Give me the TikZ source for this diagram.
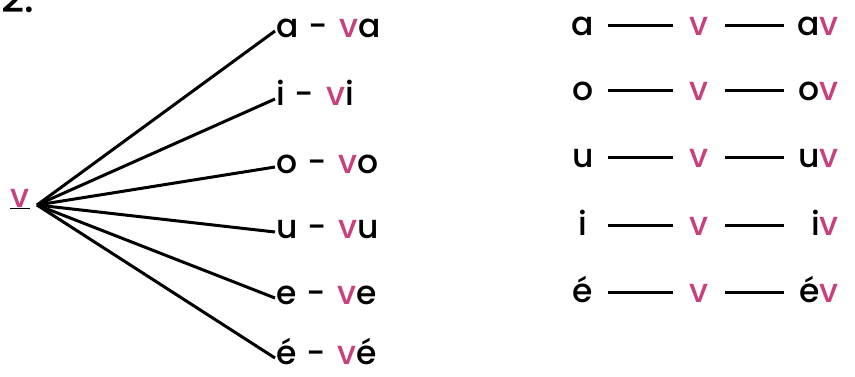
\documentclass[tikz,border=0pt]{standalone}
\usepackage{fontspec}
\setmainfont{Poppins}[UprightFont={* Medium}]
\usetikzlibrary{positioning}
\definecolor{vpink}{HTML}{C8407C}
\newcommand{\vv}{\textcolor{vpink}{v}}
\tikzset{
  big/.style={font=\fontsize{33}{36}\selectfont},
  word/.style={big, anchor=base west, inner sep=1pt, text height=12pt, text depth=0pt},
  lone/.style={big, anchor=base, inner sep=0pt, text height=20pt, text depth=0pt, minimum width=32pt},
  pair/.style={big, anchor=base east, inner sep=0pt, text height=20pt, text depth=0pt,
               text width=46pt, align=right},
  spoke/.style={draw=black, line width=3pt},                          % fan line
  dline/.style={draw=black, line width=3pt, shorten <=9pt, shorten >=9pt}, % row dash
}

\begin{document}
\begin{tikzpicture}[x=1pt,y=-1pt]
  \clip (0,0) rectangle (855,376);
  \fill[white] (0,0) rectangle (855,376);
  \node[font=\fontsize{40}{44}\selectfont, anchor=base west, inner sep=0pt] (num) at (1,12) {2.};
  % left: fan of syllables
  \node[big, anchor=base, inner sep=0pt] (hub) at (20,207) {\underline{\vv}};
  \coordinate (fork) at (37,205);
  \foreach \b/\l [count=\k] in {37/a,105/i,173/o,238/u,304/e,364/é}{
    \node[word] (w\k) at (275,\b) {\l\hspace{10pt}-\hspace{12pt}\vv\l};
    \draw[spoke] (fork) -- (w\k.west);
  }
  % right: letter -- v -- letter v
  \foreach \b/\l [count=\k] in {35/a,100/o,167/u,235/i,302/é}{
    \node[lone] (l\k) at (583,\b) {\l};
    \node[lone, minimum width=34pt] (m\k) at (699,\b) {\vv};
    \node[pair] (r\k) at (839,\b) {\l\vv};
    \draw[dline] (l\k) -- (m\k);
    \draw[dline] (m\k) -- (r\k);
  }
\end{tikzpicture}
\end{document}
